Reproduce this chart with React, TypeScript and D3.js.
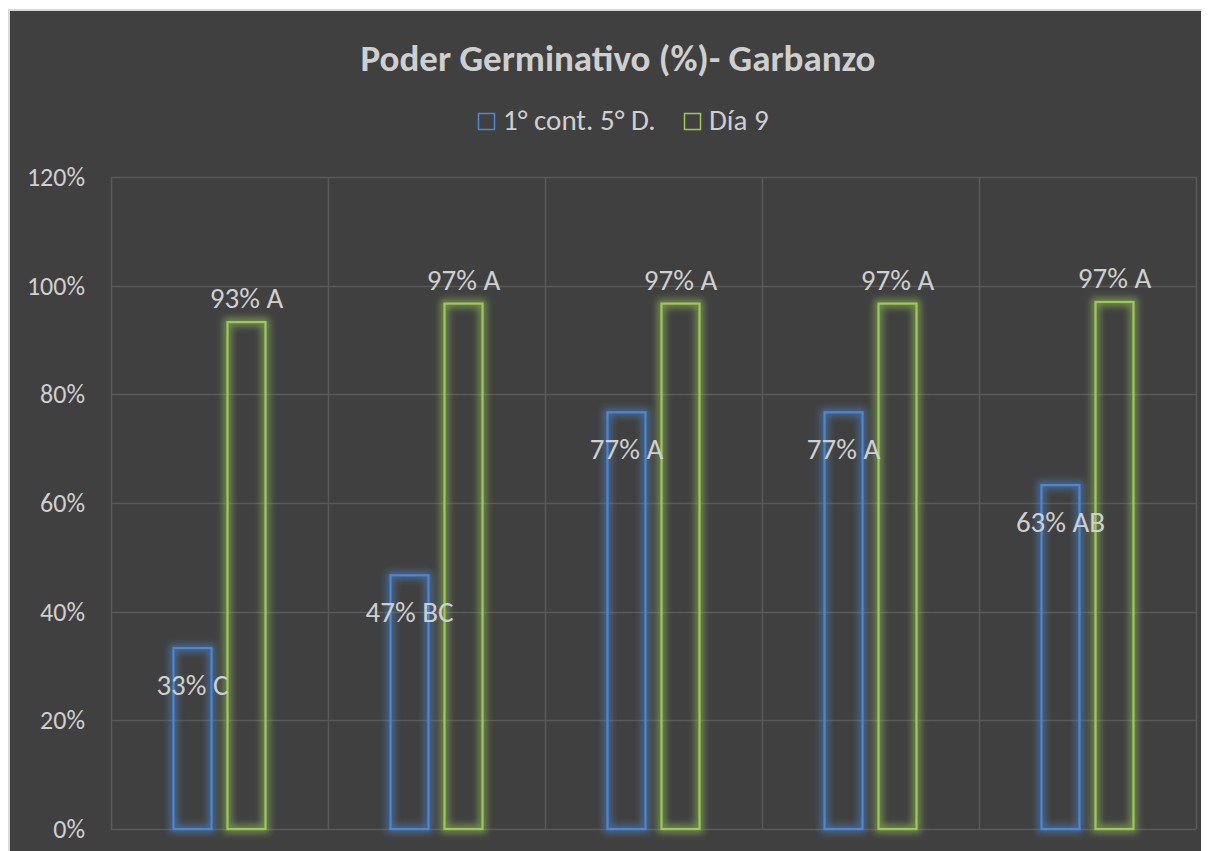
import React, { useRef, useEffect } from "react";
import * as d3 from "d3";

const categories = ["T1", "T2", "T3", "T4", "T5"];
const series = ["1° cont. 5° D.", "Día 9"];
const firstCount = [0.333, 0.467, 0.767, 0.767, 0.633];
const day9 = [0.933, 0.967, 0.967, 0.967, 0.97];
const firstLabels = ["33% C", "47% BC", "77% A", "77% A", "63% AB"];
const day9Labels = ["93% A", "97% A", "97% A", "97% A", "97% A"];
const yTicks = [0, 0.2, 0.4, 0.6, 0.8, 1.0, 1.2];

const colors = ["#4d86d1", "#9cca5a"];
const textColor = "#cfcfcf";
const font = "Carlito, 'Open Sans', 'Liberation Sans', sans-serif";

const App = () => {
  const svgRef = useRef(null);
  const W = 1201;
  const H = 843;

  useEffect(() => {
    const svg = d3.select(svgRef.current);
    svg.selectAll("*").remove();

    // glow filters
    const defs = svg.append("defs");
    colors.forEach((c, i) => {
      const f = defs.append("filter").attr("id", "glow" + i)
        .attr("x", "-50%").attr("y", "-10%").attr("width", "200%").attr("height", "120%");
      f.append("feMorphology").attr("in", "SourceGraphic").attr("operator", "dilate").attr("radius", 3).attr("result", "d");
      f.append("feGaussianBlur").attr("in", "d").attr("stdDeviation", 3.5).attr("result", "b");
      f.append("feComponentTransfer").attr("in", "b").attr("result", "bo")
        .append("feFuncA").attr("type", "linear").attr("slope", 0.55);
      const m = f.append("feMerge");
      m.append("feMergeNode").attr("in", "bo");
      m.append("feMergeNode").attr("in", "SourceGraphic");
    });

    svg.append("rect").attr("x", 1).attr("y", 2).attr("width", W + 10).attr("height", H + 10)
      .attr("fill", "#404040").attr("stroke", "#d9d9d9").attr("stroke-width", 2);

    const left = 103, right = 1188, top = 169, bottom = 821;

    const x = d3.scaleBand().domain(categories).range([left, right]);
    const y = d3.scaleLinear().domain([0, 1.2]).range([bottom, top]);

    // title
    svg.append("text").attr("x", 610).attr("y", 63)
      .attr("text-anchor", "middle").attr("fill", textColor)
      .style("font-family", font).style("font-size", "37px").style("font-weight", "bold")
      .text("Poder Germinativo (%)- Garbanzo");

    // legend
    const legendX = [470, 676];
    series.forEach((s, i) => {
      const g = svg.append("g").attr("transform", `translate(${legendX[i]}, 105)`);
      g.append("rect").attr("x", 0.5).attr("y", 0.5).attr("width", 16).attr("height", 16)
        .attr("fill", "none").attr("stroke", colors[i]).attr("stroke-width", 1.5);
      g.append("text").attr("x", 25).attr("y", 17).attr("fill", textColor)
        .style("font-family", font).style("font-size", "29px").text(s);
    });

    // grid
    svg.append("g").selectAll("line.h").data(yTicks).enter().append("line")
      .attr("x1", left).attr("x2", right)
      .attr("y1", d => Math.round(y(d)) + 0.5).attr("y2", d => Math.round(y(d)) + 0.5)
      .attr("stroke", "#595959").attr("stroke-width", 1.5);
    const bounds = categories.map(c => x(c)).concat([right]);
    svg.append("g").selectAll("line.v").data(bounds).enter().append("line")
      .attr("x1", d => Math.round(d) + 0.5).attr("x2", d => Math.round(d) + 0.5)
      .attr("y1", top).attr("y2", bottom)
      .attr("stroke", "#595959").attr("stroke-width", 1.5);

    // y axis labels
    svg.append("g").selectAll("text").data(yTicks).enter().append("text")
      .attr("x", 77).attr("y", d => y(d) + 9)
      .attr("text-anchor", "end").attr("fill", textColor)
      .style("font-family", font).style("font-size", "26px")
      .text(d => d3.format(".0%")(d));

    // bars
    const barW = 38;
    const gap = 16;
    const offsets = [-(gap / 2 + barW), gap / 2];
    [firstCount, day9].forEach((vals, si) => {
      svg.append("g").attr("filter", `url(#glow${si})`).selectAll("rect").data(vals).enter().append("rect")
        .attr("x", (d, i) => x.bandwidth() / 2 + x(categories[i]) + offsets[si])
        .attr("y", d => y(d))
        .attr("width", barW)
        .attr("height", d => y(0) - y(d))
        .attr("fill", "none")
        .attr("stroke", colors[si])
        .attr("stroke-width", 2.2);
    });

    // labels
    svg.append("g").selectAll("text").data(firstCount).enter().append("text")
      .attr("x", (d, i) => x(categories[i]) + x.bandwidth() / 2 + offsets[0] + barW / 2)
      .attr("y", d => y(d) + 47)
      .attr("text-anchor", "middle").attr("fill", textColor)
      .style("font-family", font).style("font-size", "29px")
      .text((d, i) => firstLabels[i]);
    svg.append("g").selectAll("text").data(day9).enter().append("text")
      .attr("x", (d, i) => x(categories[i]) + x.bandwidth() / 2 + offsets[1] + barW / 2)
      .attr("y", d => y(d) - 14)
      .attr("text-anchor", "middle").attr("fill", textColor)
      .style("font-family", font).style("font-size", "29px")
      .text((d, i) => day9Labels[i]);
  }, []);

  return (
    <svg ref={svgRef} width={W} height={H} style={{ display: "block" }}></svg>
  );
};

export default App;
